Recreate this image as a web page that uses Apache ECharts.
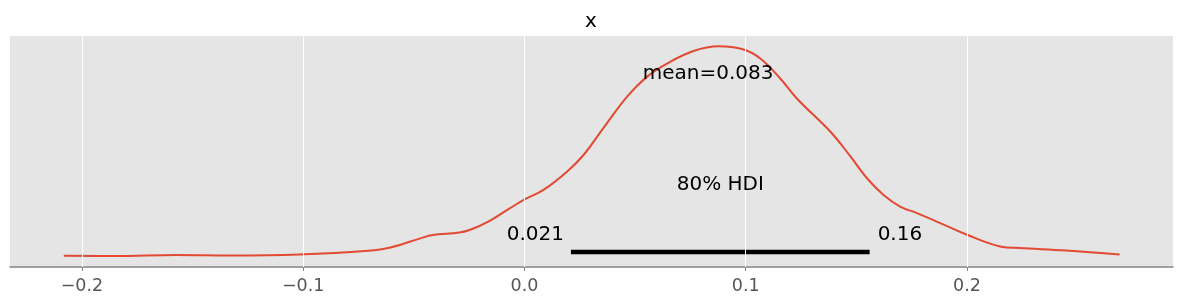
<!DOCTYPE html>
<html>
<head>
<meta charset="utf-8">
<script src="https://cdn.jsdelivr.net/npm/echarts@6/dist/echarts.min.js"></script>
<style>
html,body{margin:0;padding:0;background:#fff;}
#c{width:1182px;height:305px;}
</style>
</head>
<body>
<div id="c"></div>
<script>
// ---- data ----
const titleText = 'x';
const xTicks = [-0.2, -0.1, 0.0, 0.1, 0.2];
const kdeX = [-0.2082, -0.1849, -0.1572, -0.1330, -0.1019, -0.0708, -0.0605, -0.0467, -0.0415, -0.0294, -0.0245, -0.0155,
  -0.0065, 0.0003, 0.0086, 0.0192, 0.0267, 0.0350, 0.0463, 0.0553, 0.0644, 0.0764, 0.0877, 0.0990, 0.1066, 0.1156, 0.1231,
  0.1383, 0.1474, 0.1548, 0.1623, 0.1698, 0.1774, 0.1879, 0.2000, 0.2150, 0.2237, 0.2446, 0.2690];
const kdeY = [0.022, 0.012, 0.045, 0.032, 0.059, 0.165, 0.259, 0.526, 0.612, 0.686, 0.763, 1.028,
  1.381, 1.638, 1.903, 2.424, 2.900, 3.612, 4.562, 5.132, 5.513, 5.872, 6.006, 5.912, 5.656, 5.086, 4.516,
  3.564, 2.852, 2.236, 1.760, 1.427, 1.239, 0.954, 0.620, 0.287, 0.241, 0.173, 0.055];
const meanValue = 0.083;
const hdiBounds = [0.021, 0.156];
const hdiLabels = ['0.021', '0.16'];
const hdiText = '80% HDI';
const meanText = 'mean=0.083';
// ---- axis ranges ----
const xMin = -0.2325, xMax = 0.2931;
const yMin = -0.3, yMax = 6.3;
const hdiLineY = 0.126, meanTextY = 5.22, hdiTextY = 2.05, boundTextY = 0.62;

const FONT = 'DejaVu Sans';
const kde = kdeX.map((x, i) => [x, kdeY[i]]);
const fmt = v => (v < 0 ? '\u2212' : '') + Math.abs(v).toFixed(1);
const txt = (extra) => Object.assign({show: true, fontFamily: FONT, fontSize: 20, color: '#000000', opacity: 1, textBorderWidth: 0}, extra);

const chart = echarts.init(document.getElementById('c'), null, {renderer: 'canvas'});
chart.setOption({
  animation: false,
  backgroundColor: '#ffffff',
  title: {
    text: titleText, left: 'center', top: 7,
    textStyle: {fontFamily: FONT, fontSize: 20, fontWeight: 'normal', color: '#000'}
  },
  grid: {left: 10, right: 9, top: 36, bottom: 38, show: true, backgroundColor: '#e5e5e5', borderWidth: 0},
  xAxis: {
    type: 'value', min: xMin, max: xMax,
    axisLine: {show: true, onZero: false, lineStyle: {color: '#858585', width: 1.5}},
    axisTick: {show: true, customValues: xTicks, length: 4, lineStyle: {color: '#858585', width: 1}},
    axisLabel: {customValues: xTicks, formatter: fmt, color: '#555555', fontFamily: FONT, fontSize: 17.5, margin: 10},
    splitLine: {show: false}
  },
  yAxis: {type: 'value', min: yMin, max: yMax, show: false, splitLine: {show: false}},
  series: [
    {
      type: 'line', data: [], z: 1, silent: true,
      markLine: {
        silent: true, symbol: 'none', animation: false,
        label: {show: false},
        lineStyle: {color: '#ffffff', width: 1, type: 'solid'},
        data: xTicks.map(v => ({xAxis: v}))
      }
    },
    {
      type: 'line', data: kde, smooth: 0.4, symbol: 'none', z: 3,
      lineStyle: {color: '#e24a33', width: 2}
    },
    {
      type: 'line', data: hdiBounds.map(v => [v, hdiLineY]), symbol: 'none', z: 4,
      lineStyle: {color: '#000000', width: 4.5, cap: 'butt'}
    },
    {
      type: 'scatter', symbolSize: 0, z: 5, silent: true,
      itemStyle: {color: 'transparent'},
      label: txt({}),
      data: [
        {value: [meanValue, meanTextY], label: txt({formatter: meanText, position: 'inside', align: 'center', verticalAlign: 'middle'})},
        {value: [(hdiBounds[0] + hdiBounds[1]) / 2, hdiTextY], label: txt({formatter: hdiText, position: 'inside', align: 'center', verticalAlign: 'middle'})},
        {value: [hdiBounds[0], boundTextY], label: txt({formatter: hdiLabels[0], position: 'left', distance: 7})},
        {value: [hdiBounds[1], boundTextY], label: txt({formatter: hdiLabels[1], position: 'right', distance: 8})}
      ]
    }
  ]
});
</script>
</body>
</html>
